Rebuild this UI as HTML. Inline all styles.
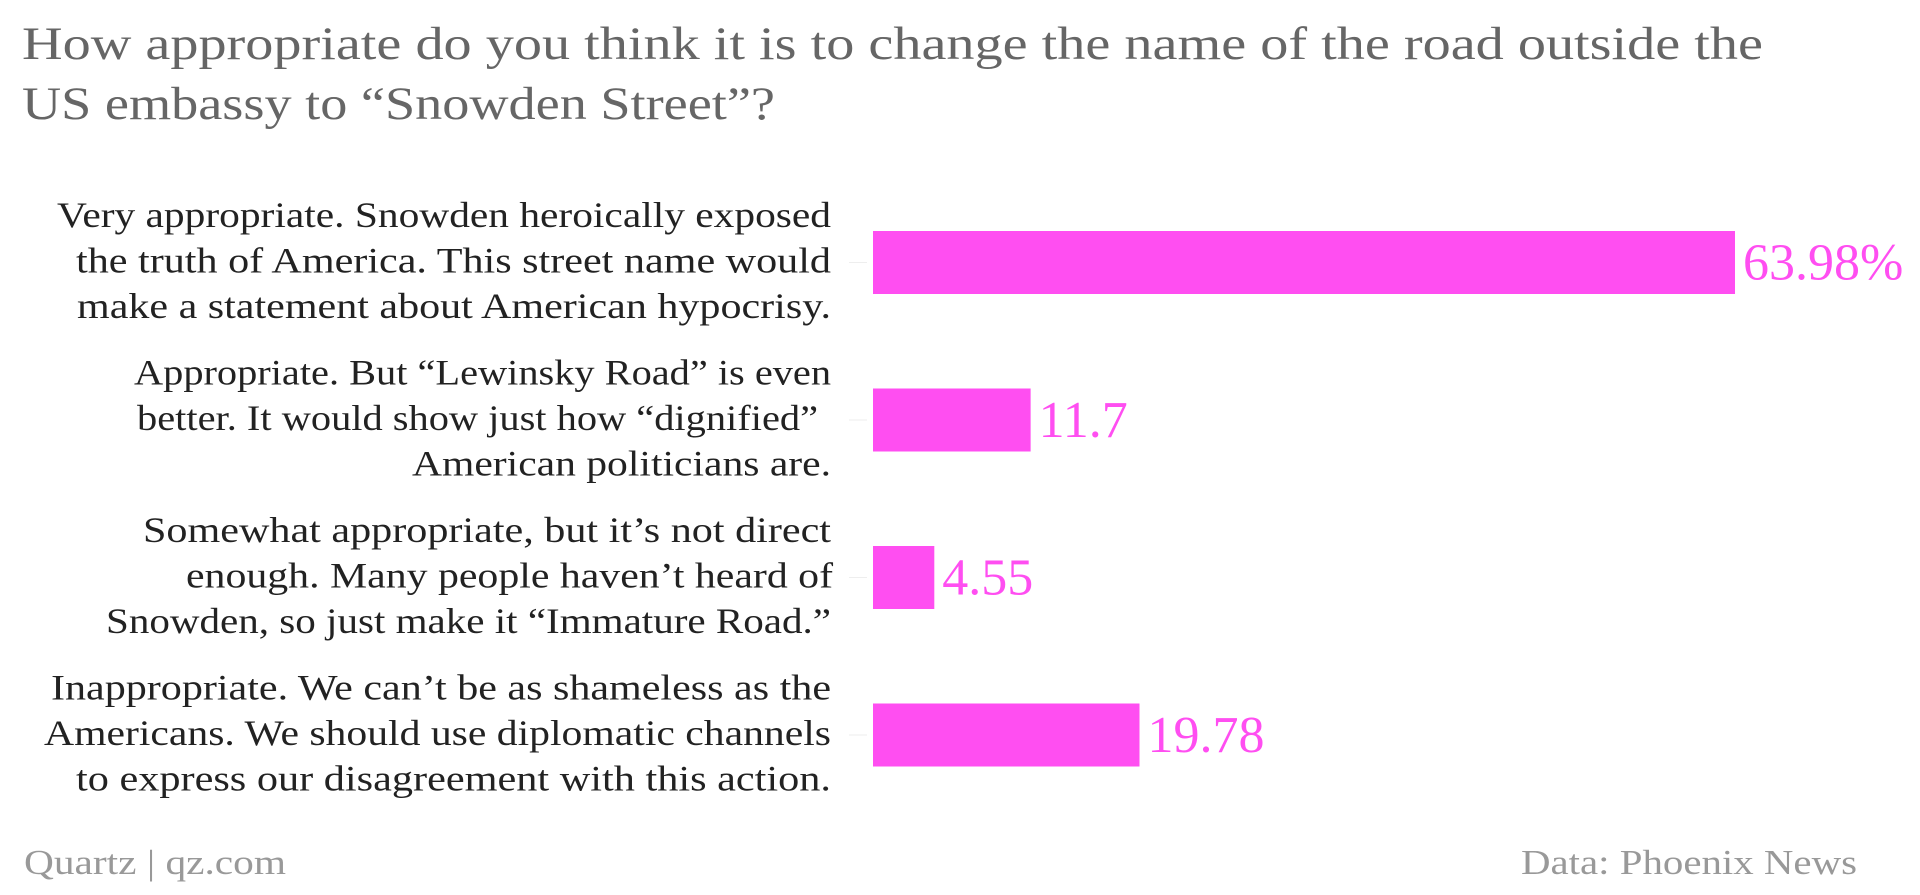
<!DOCTYPE html>
<html><head><meta charset="utf-8"><style>
html,body{margin:0;padding:0;background:#fff;}
svg{display:block;font-family:"Liberation Serif",serif;}
</style></head><body>
<svg id="chart" width="1920" height="895" xmlns="http://www.w3.org/2000/svg">
<text x="22" y="59" font-size="47" fill="#666" textLength="1741" lengthAdjust="spacingAndGlyphs">How appropriate do you think it is to change the name of the road outside the</text>
<text x="22" y="119" font-size="47" fill="#666" textLength="753" lengthAdjust="spacingAndGlyphs">US embassy to “Snowden Street”?</text>
<g id="bars"></g>
<text x="24" y="874" font-size="35" fill="#999" textLength="262" lengthAdjust="spacingAndGlyphs">Quartz | qz.com</text>
<text x="1857" y="874" font-size="35" fill="#999" text-anchor="end" textLength="336" lengthAdjust="spacingAndGlyphs">Data: Phoenix News</text>
</svg>
<script>
const categories = [
 ["Very appropriate. Snowden heroically exposed","the truth of America. This street name would","make a statement about American hypocrisy."],
 ["Appropriate. But “Lewinsky Road” is even","better. It would show just how “dignified”","American politicians are."],
 ["Somewhat appropriate, but it’s not direct","enough. Many people haven’t heard of","Snowden, so just make it “Immature Road.”"],
 ["Inappropriate. We can’t be as shameless as the","Americans. We should use diplomatic channels","to express our disagreement with this action."]
];
const values = [63.98, 11.7, 4.55, 19.78];
const valueLabels = ["63.98%", "11.7", "4.55", "19.78"];
const lineWidths = [[774,755,754],[697,681,419],[688,647,725],[780,787,755]];
const lineRight = [[831,831,831],[831,818,831],[831,833,831],[831,831,831]];

const NS = "http://www.w3.org/2000/svg";
const g = document.getElementById('bars');
const x0 = 873, xMax = 1735, vMax = 63.98;
const xScale = v => x0 + (v / vMax) * (xMax - x0);
const bandTop = 231, bandStep = 157.5, barH = 63;
const yScale = i => bandTop + i * bandStep;

values.forEach((v, i) => {
  const y = yScale(i);
  const cy = y + barH / 2;
  const tick = document.createElementNS(NS, 'line');
  
  
  tick.setAttribute('x1', 849); tick.setAttribute('x2', 867);
  tick.setAttribute('y1', cy); tick.setAttribute('y2', cy);
  tick.setAttribute('stroke', '#eee'); tick.setAttribute('stroke-width', 1);
  g.appendChild(tick);
  const r = document.createElementNS(NS, 'rect');
  
  
  r.setAttribute('x', x0); r.setAttribute('y', y);
  r.setAttribute('width', xScale(v) - x0); r.setAttribute('height', barH);
  r.setAttribute('fill', '#ff4ef1');
  g.appendChild(r);
  const t = document.createElementNS(NS, 'text');
  
  
  t.setAttribute('x', xScale(v) + 8); t.setAttribute('y', cy + 17);
  t.setAttribute('font-size', 52); t.setAttribute('fill', '#ff4ef1');
  t.textContent = valueLabels[i];
  g.appendChild(t);
  categories[i].forEach((line, j) => {
    const lt = document.createElementNS(NS, 'text');
    
    
    lt.setAttribute('x', lineRight[i][j]);
    lt.setAttribute('y', cy + 10 + (j - 1) * 45.5);
    lt.setAttribute('font-size', 36); lt.setAttribute('fill', '#222');
    lt.setAttribute('text-anchor', 'end');
    lt.setAttribute('textLength', lineWidths[i][j]);
    lt.setAttribute('lengthAdjust', 'spacingAndGlyphs');
    lt.textContent = line;
    g.appendChild(lt);
  });
});
</script>
</body></html>
